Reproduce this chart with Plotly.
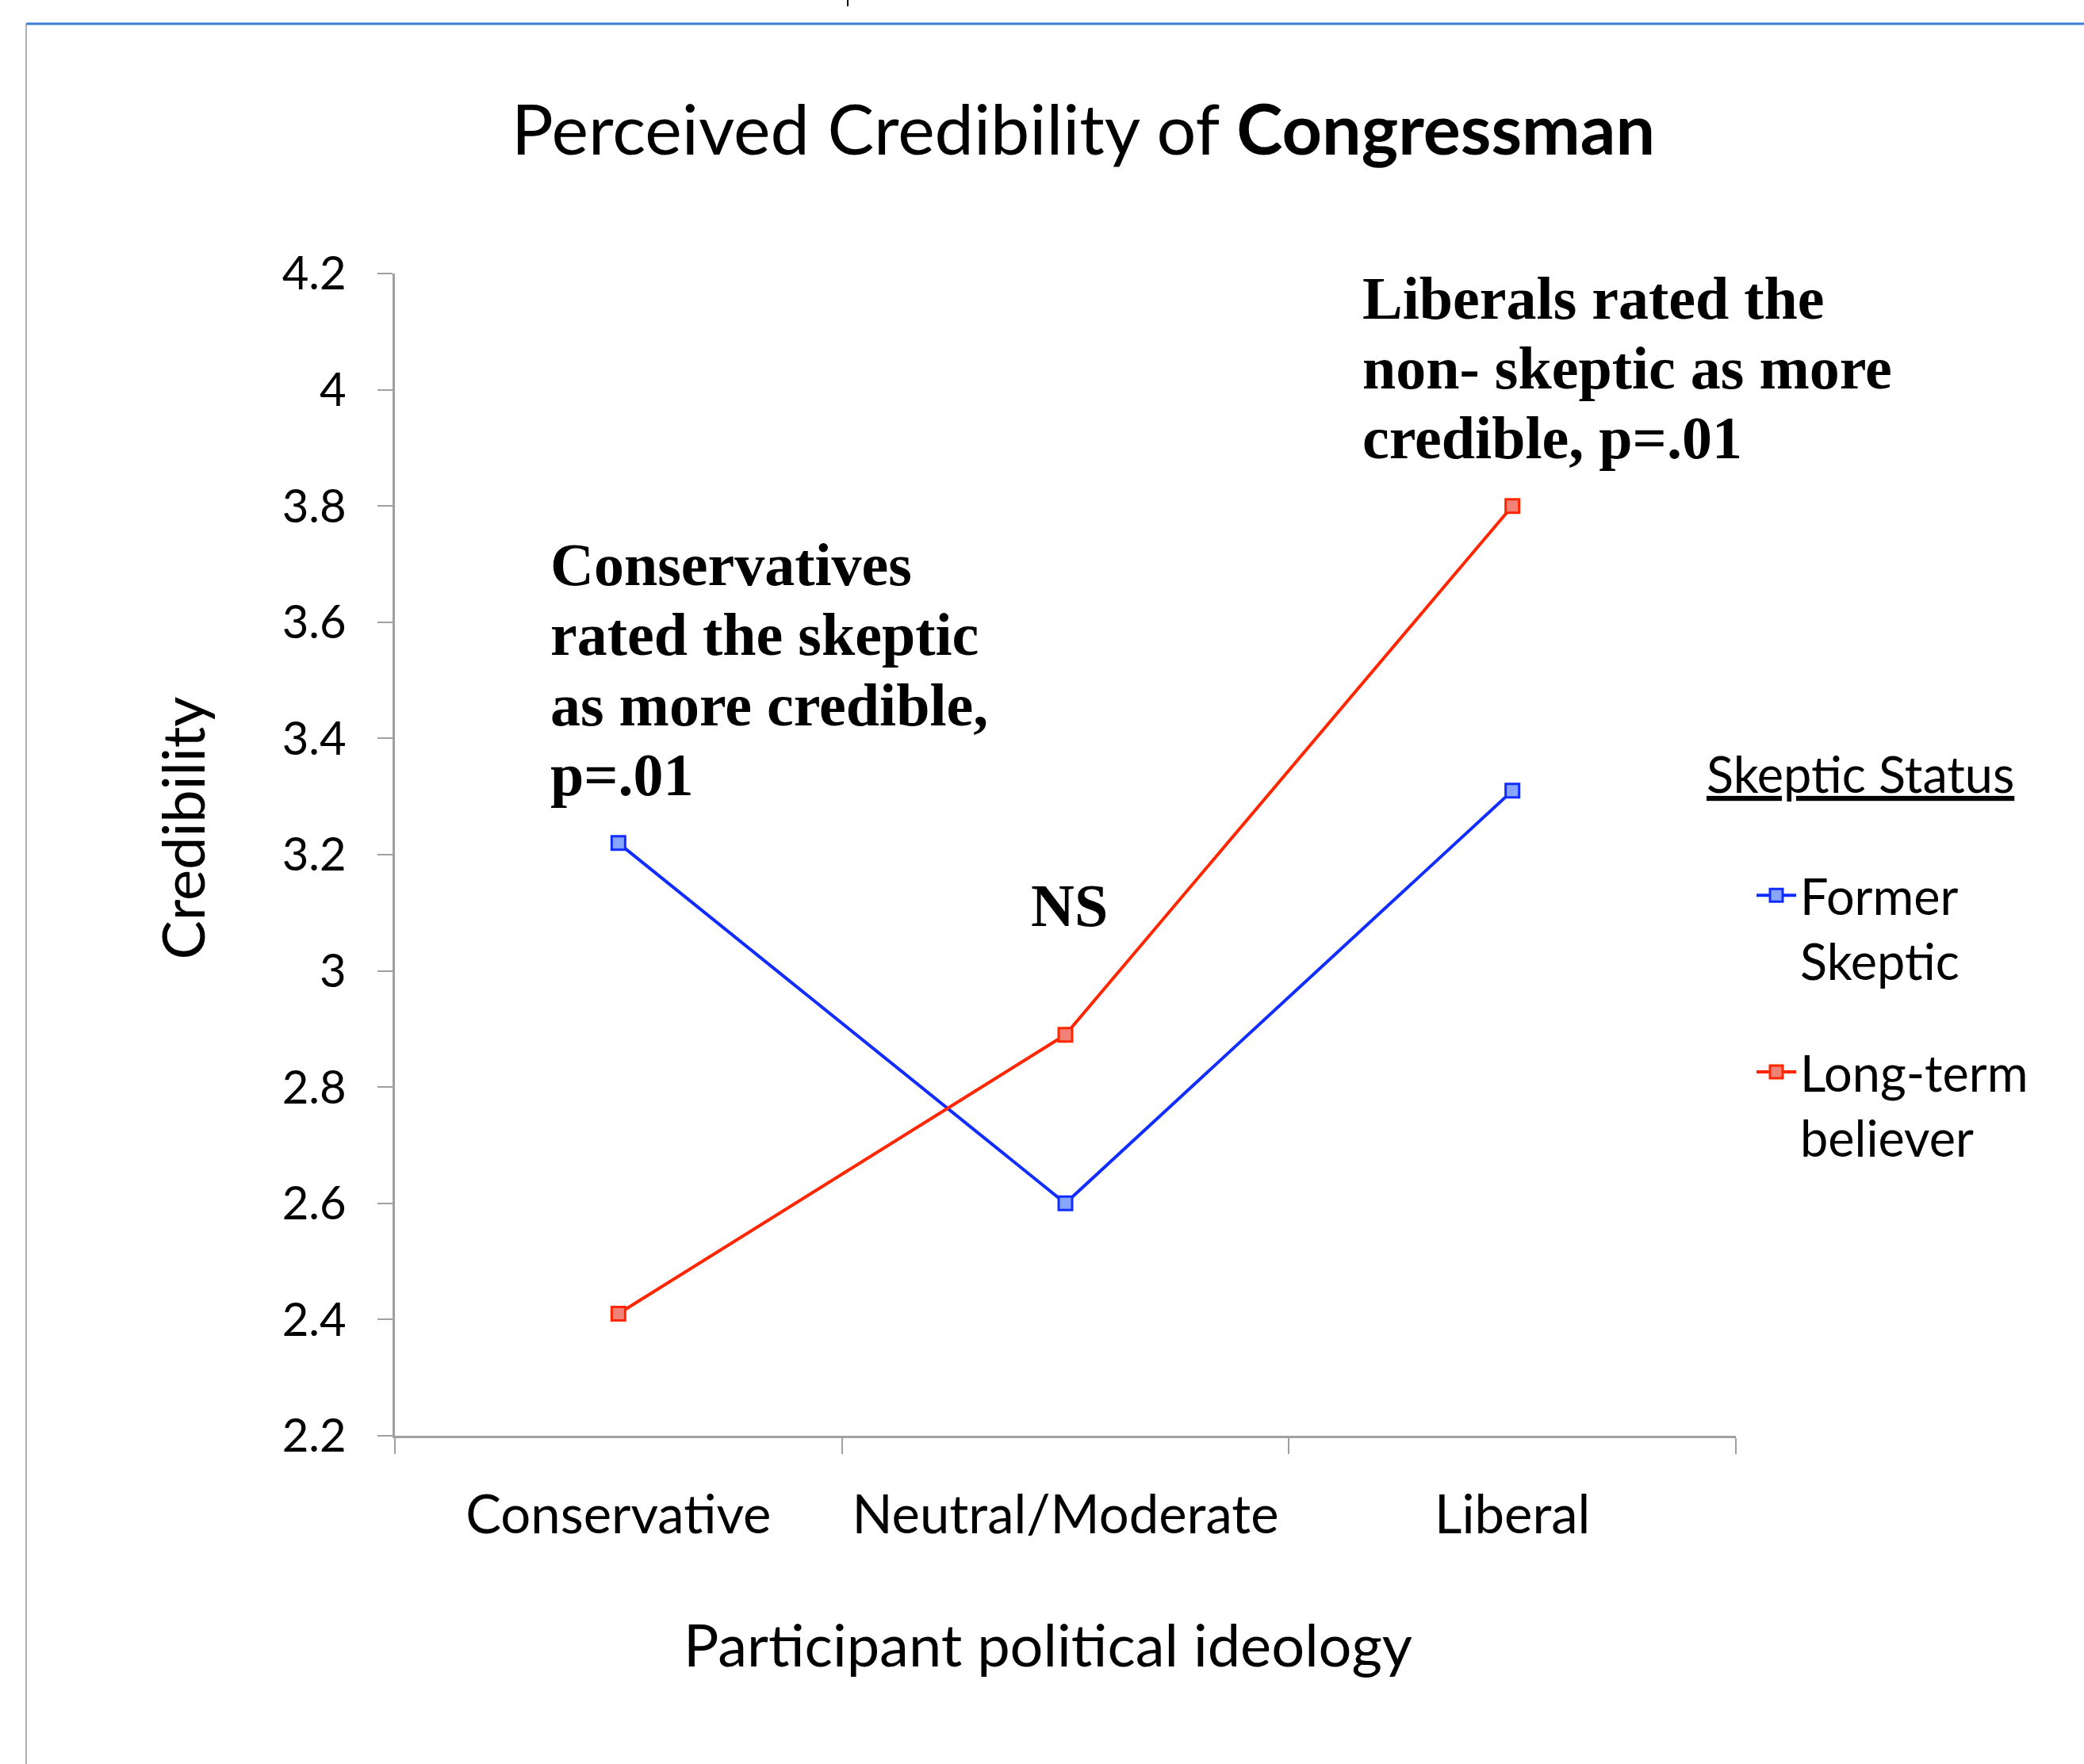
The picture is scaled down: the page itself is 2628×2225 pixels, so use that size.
import plotly.graph_objects as go

# ---------------- data ----------------
categories = ["Conservative", "Neutral/Moderate", "Liberal"]
former_skeptic = [3.22, 2.60, 3.31]
long_term_believer = [2.41, 2.89, 3.80]
y_tick_values = [2.2, 2.4, 2.6, 2.8, 3.0, 3.2, 3.4, 3.6, 3.8, 4.0, 4.2]
y_tick_labels = ["2.2", "2.4", "2.6", "2.8", "3", "3.2", "3.4", "3.6", "3.8", "4", "4.2"]
series_names = ["Former<br>Skeptic", "Long-term<br>believer"]

conservative_note = ["Conservatives", "rated the skeptic", "as more credible,", "p=.01"]
liberal_note = ["Liberals rated the", "non- skeptic as more", "credible, p=.01"]
neutral_note = "NS"

# ---------------- layout geometry (pixels) ----------------
W, H = 2628, 2225
L, R, T, B = 498, 2189, 345, 1811


def px(x):
    return (x - L) / (R - L)


def py(y):
    return (B - y) / (B - T)


SANS = "Lato, 'Open Sans', sans-serif"
SERIF = "'Liberation Serif', 'Times New Roman', serif"
BLUE = "rgb(18,45,255)"
RED = "rgb(255,38,0)"

fig = go.Figure()
fig.add_trace(go.Scatter(
    x=categories, y=former_skeptic, name=series_names[0], mode="lines+markers",
    line=dict(color=BLUE, width=4),
    marker=dict(symbol="square", size=17, color="rgb(135,165,250)", line=dict(color=BLUE, width=3)),
    legendgroup="g1",
))
fig.add_trace(go.Scatter(
    x=categories, y=long_term_believer, name=series_names[1], mode="lines+markers",
    line=dict(color=RED, width=4),
    marker=dict(symbol="square", size=17, color="rgb(240,130,120)", line=dict(color=RED, width=3)),
    legendgroup="g2",
))

annotations = []
SER_SIZE = 76


def serif_line(text, x_left, baseline, size=SER_SIZE, xanchor="left"):
    return dict(
        text="<b>" + text + "</b>", x=px(x_left), y=py(baseline - 0.34 * size),
        xref="paper", yref="paper", xanchor=xanchor, yanchor="middle",
        showarrow=False, align="left",
        font=dict(family=SERIF, size=size, color="black"),
    )


for i, line in enumerate(conservative_note):
    annotations.append(serif_line(line, 692, 738 + i * 88.3))
for i, line in enumerate(liberal_note):
    annotations.append(serif_line(line, 1716, 402 + i * 88))
annotations.append(serif_line(neutral_note, 1348, 1168, xanchor="center"))

# axis titles
annotations.append(dict(
    text="Participant political ideology", x=px(1321), y=py(2098 - 0.33 * 74),
    xref="paper", yref="paper", xanchor="center", yanchor="middle", showarrow=False,
    font=dict(family=SANS, size=74, color="black"),
))
annotations.append(dict(
    text="Credibility", x=px(253 - 0.33 * 74), y=py(1045),
    xref="paper", yref="paper", xanchor="center", yanchor="middle", showarrow=False,
    textangle=-90, font=dict(family=SANS, size=74, color="black"),
))

shapes = [
    # slide frame: blue top rule and grey left rule
    dict(type="line", xref="paper", yref="paper", x0=px(33), x1=px(2628), y0=py(30), y1=py(30),
         line=dict(color="rgb(62,125,216)", width=3)),
    dict(type="line", xref="paper", yref="paper", x0=px(33), x1=px(33), y0=py(30), y1=py(2225),
         line=dict(color="rgb(150,150,150)", width=1.5)),
    dict(type="line", xref="paper", yref="paper", x0=px(1069), x1=px(1069), y0=py(0), y1=py(8),
         line=dict(color="black", width=2)),
]

fig.update_layout(
    width=W, height=H, autosize=False,
    margin=dict(l=L, r=W - R, t=T, b=H - B, pad=0, autoexpand=False),
    paper_bgcolor="white", plot_bgcolor="white",
    title=dict(
        text="Perceived Credibility of <b>Congressman</b>",
        x=1366 / W, xanchor="center", xref="container",
        y=1 - (193 - 0.33 * 88) / H, yanchor="middle", yref="container",
        font=dict(family=SANS, size=88, color="black"),
    ),
    xaxis=dict(
        type="category", range=[-0.5, 2.5], tickson="boundaries",
        ticks="outside", ticklen=20, tickwidth=1.5, tickcolor="rgb(160,160,160)",
        showline=True, linecolor="rgb(160,160,160)", linewidth=2.5,
        showgrid=False, zeroline=False, ticklabelstandoff=40, tickangle=0,
        automargin=False,
        tickfont=dict(family=SANS, size=67, color="black"),
    ),
    yaxis=dict(
        range=[2.2, 4.2], tickmode="array", tickvals=y_tick_values, ticktext=y_tick_labels,
        ticks="outside", ticklen=19, tickwidth=1.5, tickcolor="rgb(160,160,160)",
        showline=True, linecolor="rgb(160,160,160)", linewidth=2.5,
        showgrid=False, zeroline=False, ticklabelstandoff=28, automargin=False,
        tickfont=dict(family=SANS, size=58, color="black"),
    ),
    showlegend=True,
    legend=dict(
        title=dict(text="<u>Skeptic Status</u><br> ", font=dict(family=SANS, size=63, color="black")),
        font=dict(family=SANS, size=63, color="black"),
        x=px(2150), xanchor="left", y=py(918), yanchor="top",
        bgcolor="rgba(0,0,0,0)", borderwidth=0,
        tracegroupgap=56, valign="top", indentation=60,
        itemwidth=50,
    ),
    annotations=annotations,
    shapes=shapes,
)

fig.write_html("out.html")
